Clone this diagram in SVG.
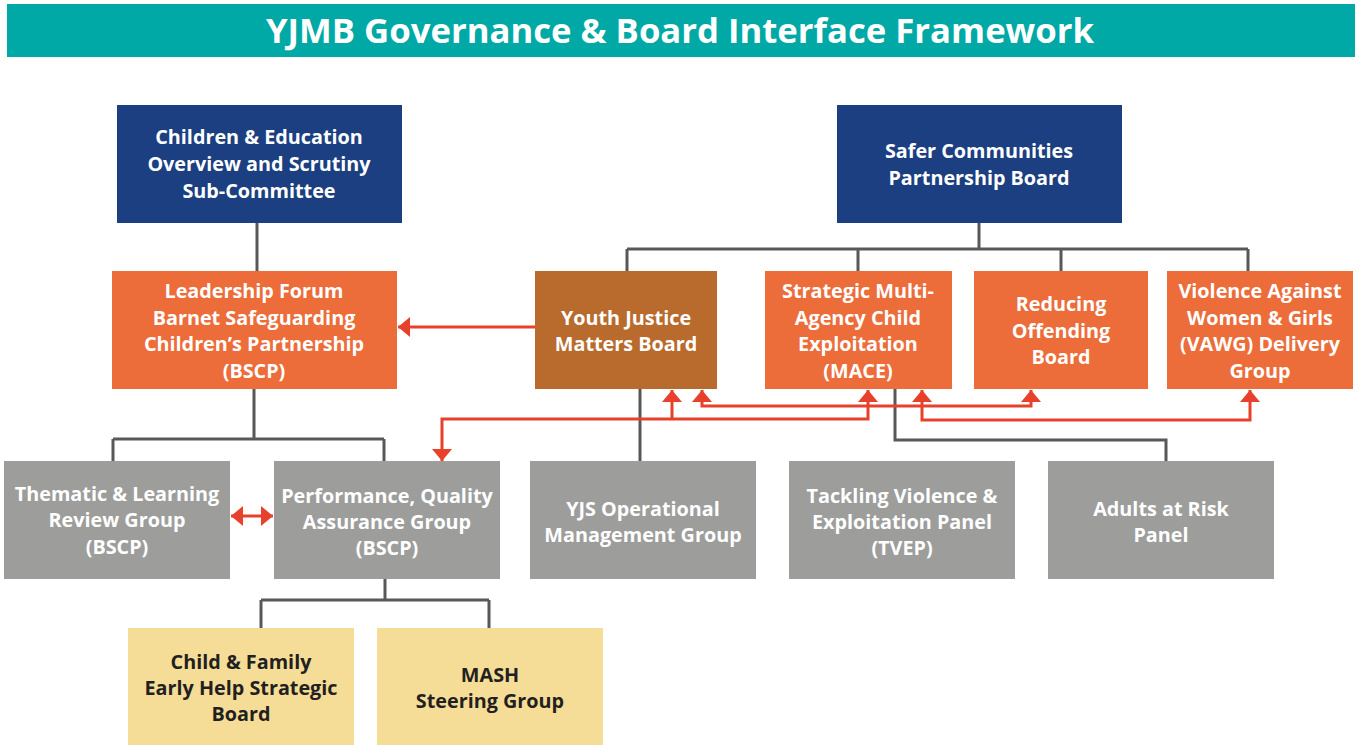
<svg xmlns="http://www.w3.org/2000/svg" width="1361" height="745" viewBox="0 0 1361 745">
<defs>
<style>
.t{font-family:"Open Sans","Liberation Sans",sans-serif;font-weight:700;font-size:19.8px;fill:#fff;text-anchor:middle}
.d{fill:#231f20}
.blue{fill:#1b3f80}
.org{fill:#ec6c3a}
.brn{fill:#b96a2d}
.gry{fill:#9d9d9c}
.yel{fill:#f5dd97}
.c{fill:none;stroke:#58585a;stroke-width:3}
.r{fill:none;stroke:#e8412b;stroke-width:3}
</style>
<marker id="ah" viewBox="0 0 12 20" refX="12" refY="10" markerWidth="12" markerHeight="20" markerUnits="userSpaceOnUse" orient="auto-start-reverse">
<path d="M0,0 L12,10 L0,20 Z" fill="#e8412b"/>
</marker>
</defs>
<rect x="0" y="0" width="1361" height="745" fill="#fff"/>
<g id="title">
<rect x="7" y="4" width="1348" height="53" fill="#00a9a5"/>
<text x="680" y="43" style="font-family:'Open Sans','Liberation Sans',sans-serif;font-weight:700;font-size:34.7px;fill:#fff;text-anchor:middle">YJMB Governance &amp; Board Interface Framework</text>
</g>
<g id="connectors">
<path class="c" d="M257,223 V271"/>
<path class="c" d="M979,223 V249 M627,249 H1248 M627,249 V271 M858,249 V271 M1061,249 V271 M1248,249 V271"/>
<path class="c" d="M254,389 V439 M113,439 H384 M113,439 V461 M384,439 V461"/>
<path class="c" d="M640,389 V461"/>
<path class="c" d="M895,389 V440 H1166 V461"/>
<path class="c" d="M385,579 V600 M261,600 H489 M261,600 V628 M489,600 V628"/>
<path class="r" d="M535,327 H398" marker-end="url(#ah)"/>
<path class="r" d="M868,390 V419 H442 V461" marker-start="url(#ah)" marker-end="url(#ah)"/>
<path class="r" d="M672,419 V390" marker-end="url(#ah)"/>
<path class="r" d="M702,390 V406 H1031 V390" marker-start="url(#ah)" marker-end="url(#ah)"/>
<path class="r" d="M922,390 V420 H1250 V390" marker-start="url(#ah)" marker-end="url(#ah)"/>
<path class="r" d="M231,516 H273" marker-start="url(#ah)" marker-end="url(#ah)"/>
</g>
<g id="n-children"><rect class="blue" x="117" y="105" width="285" height="118"/>
<text class="t" x="259" y="144">Children &amp; Education</text><text class="t" x="259" y="171">Overview and Scrutiny</text><text class="t" x="259" y="198">Sub-Committee</text></g>
<g id="n-safer"><rect class="blue" x="837" y="105" width="285" height="118"/>
<text class="t" x="979" y="158">Safer Communities</text><text class="t" x="979" y="185">Partnership Board</text></g>
<g id="n-leadership"><rect class="org" x="112" y="271" width="285" height="118"/>
<text class="t" x="254" y="298">Leadership Forum</text><text class="t" x="254" y="325">Barnet Safeguarding</text><text class="t" x="254" y="351">Children’s Partnership</text><text class="t" x="254" y="378">(BSCP)</text></g>
<g id="n-yjmb"><rect class="brn" x="535" y="271" width="182" height="118"/>
<text class="t" x="626" y="325">Youth Justice</text><text class="t" x="626" y="351">Matters Board</text></g>
<g id="n-mace"><rect class="org" x="765" y="271" width="187" height="118"/>
<text class="t" x="858" y="298">Strategic Multi-</text><text class="t" x="858" y="325">Agency Child</text><text class="t" x="858" y="351">Exploitation</text><text class="t" x="858" y="378">(MACE)</text></g>
<g id="n-reducing"><rect class="org" x="974" y="271" width="174" height="118"/>
<text class="t" x="1061" y="311">Reducing</text><text class="t" x="1061" y="338">Offending</text><text class="t" x="1061" y="364">Board</text></g>
<g id="n-vawg"><rect class="org" x="1167" y="271" width="186" height="118"/>
<text class="t" x="1260" y="298">Violence Against</text><text class="t" x="1260" y="325">Women &amp; Girls</text><text class="t" x="1260" y="351">(VAWG) Delivery</text><text class="t" x="1260" y="378">Group</text></g>
<g id="n-thematic"><rect class="gry" x="4" y="461" width="226" height="118"/>
<text class="t" x="117" y="501">Thematic &amp; Learning</text><text class="t" x="117" y="527">Review Group</text><text class="t" x="117" y="554">(BSCP)</text></g>
<g id="n-performance"><rect class="gry" x="274" y="461" width="226" height="118"/>
<text class="t" x="387" y="503">Performance, Quality</text><text class="t" x="387" y="529">Assurance Group</text><text class="t" x="387" y="555">(BSCP)</text></g>
<g id="n-yjs"><rect class="gry" x="530" y="461" width="226" height="118"/>
<text class="t" x="643" y="516">YJS Operational</text><text class="t" x="643" y="542">Management Group</text></g>
<g id="n-tvep"><rect class="gry" x="789" y="461" width="226" height="118"/>
<text class="t" x="902" y="503">Tackling Violence &amp;</text><text class="t" x="902" y="529">Exploitation Panel</text><text class="t" x="902" y="555">(TVEP)</text></g>
<g id="n-adults"><rect class="gry" x="1048" y="461" width="226" height="118"/>
<text class="t" x="1161" y="516">Adults at Risk</text><text class="t" x="1161" y="542">Panel</text></g>
<g id="n-childfamily"><rect class="yel" x="128" y="628" width="226" height="117"/>
<text class="t d" x="241" y="669">Child &amp; Family</text><text class="t d" x="241" y="695">Early Help Strategic</text><text class="t d" x="241" y="721">Board</text></g>
<g id="n-mash"><rect class="yel" x="377" y="628" width="226" height="117"/>
<text class="t d" x="490" y="682">MASH</text><text class="t d" x="490" y="708">Steering Group</text></g>
</svg>
